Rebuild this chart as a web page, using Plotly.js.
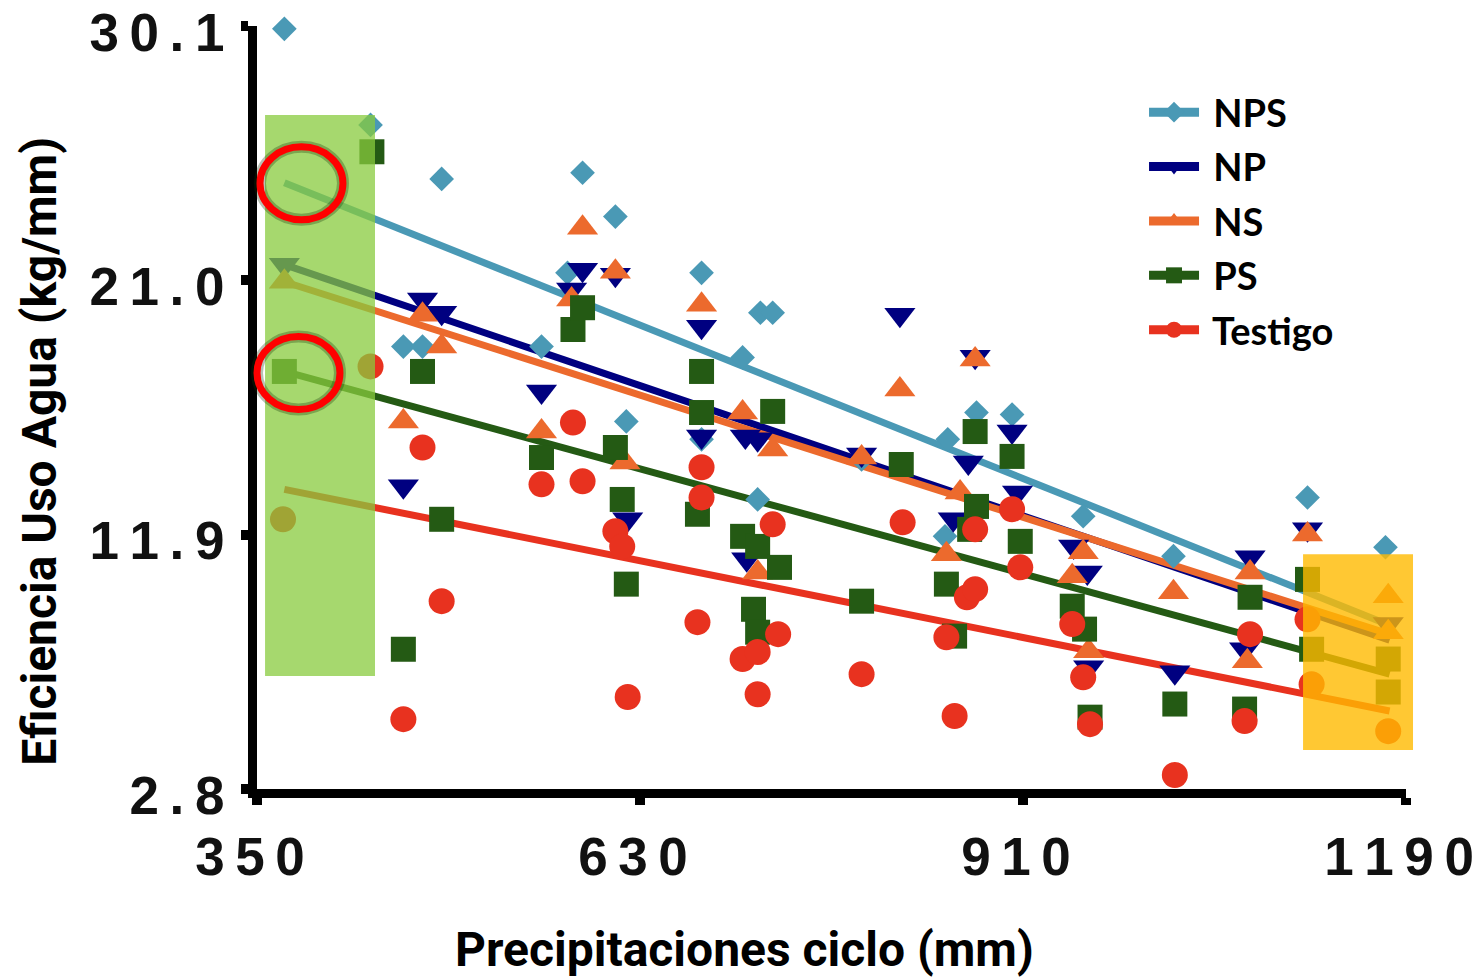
<!DOCTYPE html>
<html>
<head>
<meta charset="utf-8">
<script src="https://cdn.plot.ly/plotly-3.0.1.min.js"></script>
<style>
html,body{margin:0;padding:0;background:#fff;}
#chart{width:1480px;height:980px;}
</style>
</head>
<body>
<div id="chart"></div>
<script>
// ---- data ----
const seriesNames = ["NPS", "NP", "NS", "PS", "Testigo"];

const npsX = [370, 433, 457, 471, 485, 558, 577, 588, 612, 620, 675, 675, 705, 716, 718, 727, 792, 855, 853, 876, 902, 954, 1020, 1118, 1175];
const npsY = [30.0, 26.56, 18.63, 18.63, 24.63, 18.63, 21.27, 24.85, 23.28, 15.95, 15.31, 21.27, 18.24, 13.16, 19.84, 19.84, 14.59, 15.31, 11.84, 16.27, 16.20, 12.56, 11.13, 13.23, 11.45];

const npX = [370, 457, 471, 485, 558, 580, 588, 612, 621, 675, 675, 707, 716, 708, 792, 820, 875, 870, 902, 859, 906, 947, 957, 958, 1021, 1076, 1072, 1118, 1177];
const npY = [21.56, 13.63, 20.31, 19.84, 17.02, 20.67, 21.38, 21.20, 12.45, 19.34, 15.41, 15.41, 15.31, 11.02, 14.77, 19.77, 18.27, 14.48, 15.59, 12.45, 13.41, 11.48, 10.55, 7.16, 6.98, 11.09, 7.80, 12.09, 8.70];

const nsX = [370, 457, 471, 485, 558, 580, 588, 612, 619, 675, 705, 727, 716, 792, 820, 875, 864, 854, 954, 946, 958, 1020, 1076, 1074, 1118, 1177, 1177];
const nsY = [20.95, 15.95, 19.77, 18.63, 15.59, 20.31, 22.88, 21.31, 14.48, 20.13, 16.27, 14.95, 10.55, 14.66, 17.09, 18.17, 13.41, 11.20, 11.27, 10.41, 7.73, 9.84, 10.55, 7.37, 11.91, 9.70, 8.41];

const psX = [370, 434, 457, 471, 485, 558, 581, 588, 612, 617, 620, 675, 675, 672, 705, 716, 727, 732, 713, 716, 792, 821, 854, 860, 875, 902, 876, 871, 908, 946, 955, 959, 1021, 1076, 1072, 1118, 1121, 1177, 1177];
const psY = [17.74, 25.60, 7.80, 17.74, 12.45, 14.66, 19.24, 20.02, 15.02, 13.16, 10.13, 17.74, 16.27, 12.63, 11.84, 11.48, 16.31, 10.73, 9.23, 8.41, 9.52, 14.41, 10.13, 8.27, 15.59, 14.70, 12.91, 12.09, 11.66, 9.34, 8.52, 5.37, 5.84, 9.66, 5.66, 10.30, 7.80, 7.45, 6.27];

const testigoX = [369, 433, 457, 471, 485, 558, 581, 588, 612, 617, 621, 675, 675, 672, 705, 716, 716, 727, 731, 792, 822, 854, 860, 869, 875, 875, 902, 908, 946, 954, 959, 1021, 1076, 1072, 1118, 1121, 1177];
const testigoY = [12.45, 17.92, 5.30, 15.02, 9.52, 13.70, 15.91, 13.81, 12.02, 11.48, 6.09, 14.31, 13.23, 8.77, 7.45, 7.70, 6.19, 12.27, 8.34, 6.91, 12.34, 8.23, 5.41, 9.66, 9.95, 12.09, 12.81, 10.73, 8.70, 6.80, 5.12, 3.30, 8.34, 5.23, 8.87, 6.55, 4.87];

// fitted trend lines (start / end values)
const trendX = [370, 1178];
const trendNPS = [24.49, 8.66];
const trendNP = [21.56, 8.12];
const trendNS = [20.95, 8.34];
const trendPS = [17.74, 6.91];
const trendTestigo = [13.52, 5.59];

// axis ticks
const xTickVals = [350, 630, 910, 1190];
const xTickText = ["3\u20095\u20090", "6\u20093\u20090", "9\u20091\u20090", "1\u20091\u20099\u20090"];
const yTickVals = [2.8, 11.9, 21.0, 30.1];
const yTickText = ["2\u2009.\u20098", "1\u20091\u2009.\u20099", "2\u20091\u2009.\u20090", "3\u20090\u2009.\u20091"];

const xTitle = "Precipitaciones ciclo (mm)";
const yTitle = "Eficiencia Uso Agua (kg/mm)";

// ---- styling ----
const colors = ["#4a99b5", "#000080", "#ec6a2d", "#245a14", "#e8321f"];
const symbols = ["diamond", "triangle-down", "triangle-up", "square", "circle"];
const sizes = [19, 27, 27, 25, 26];
const xs = [npsX, npX, nsX, psX, testigoX];
const ys = [npsY, npY, nsY, psY, testigoY];
const trends = [trendNPS, trendNP, trendNS, trendPS, trendTestigo];

const traces = [];
// trend lines first (drawn under markers)
for (let i = 0; i < 5; i++) {
  traces.push({
    type: "scatter", mode: "lines", x: trendX, y: trends[i],
    line: {color: colors[i], width: 7}, showlegend: false, hoverinfo: "skip"
  });
}
// markers
for (let i = 0; i < 5; i++) {
  traces.push({
    type: "scatter", mode: "markers", x: xs[i], y: ys[i], name: seriesNames[i],
    marker: {symbol: symbols[i], size: sizes[i], color: colors[i], line: {width: 0}},
    showlegend: false, cliponaxis: false
  });
}
// legend entries (line + marker symbol)
for (let i = 0; i < 5; i++) {
  traces.push({
    type: "scatter", mode: "lines+markers", x: [null], y: [null],
    name: "\u00a0" + seriesNames[i],
    legendgroup: "g" + i,
    line: {color: colors[i], width: 9},
    marker: {symbol: symbols[i], size: 16, color: colors[i]},
    showlegend: true
  });
}

const titleFont = {family: "Roboto, 'Liberation Sans Narrow', sans-serif", size: 48, color: "#000", weight: 700};
const tickFont = {family: "'Liberation Sans', Arial, sans-serif", size: 53, color: "#111", weight: 700};

const layout = {
  width: 1480, height: 980,
  margin: {l: 257, r: 74, t: 26, b: 191, pad: 0},
  paper_bgcolor: "#fff", plot_bgcolor: "#fff",
  showlegend: true,
  legend: {
    x: 0.772, y: 0.928, xanchor: "left", yanchor: "top",
    font: {family: "Lato, 'Open Sans', sans-serif", size: 38, color: "#000", weight: 700},
    bgcolor: "rgba(0,0,0,0)", itemwidth: 50, tracegroupgap: 2,
    traceorder: "grouped"
  },
  xaxis: {
    range: [350, 1190], showgrid: false, zeroline: false,
    showline: true, linecolor: "#000", linewidth: 9,
    ticks: "outside", ticklen: 7, tickwidth: 10, tickcolor: "#000",
    tickvals: xTickVals, ticktext: xTickText, tickfont: tickFont,
    ticklabelstandoff: 6, ticklabelshift: -7, ticklabeloverflow: "allow"
  },
  yaxis: {
    range: [2.8, 30.1], showgrid: false, zeroline: false,
    showline: true, linecolor: "#000", linewidth: 9,
    ticks: "outside", ticklen: 7, tickwidth: 10, tickcolor: "#000",
    tickvals: yTickVals, ticktext: yTickText, tickfont: tickFont,
    ticklabelstandoff: 6, ticklabelshift: 6, ticklabeloverflow: "allow"
  },
  annotations: [
    {text: xTitle, xref: "paper", yref: "paper", x: 0.424, y: -0.211,
     xanchor: "center", yanchor: "middle", showarrow: false, font: titleFont},
    {text: yTitle, xref: "paper", yref: "paper", x: -0.189, y: 0.443, textangle: -90,
     xanchor: "center", yanchor: "middle", showarrow: false, font: titleFont}
  ],
  shapes: [
    // green highlight box (left)
    {type: "rect", xref: "paper", yref: "paper", x0: 0.007, x1: 0.1027, y0: 0.148, y1: 0.8835,
     fillcolor: "rgb(136,203,62)", opacity: 0.75, line: {width: 0}, layer: "above"},
    // yellow highlight box (right)
    {type: "rect", xref: "paper", yref: "paper", x0: 0.9104, x1: 1.0061, y0: 0.051, y1: 0.3076,
     fillcolor: "rgb(255,186,0)", opacity: 0.8, line: {width: 0}, layer: "above"},
    // red circle shadows
    {type: "circle", xref: "paper", yref: "paper", x0: 0.0026, x1: 0.0748, y0: 0.7461, y1: 0.8416,
     line: {color: "rgba(20,50,10,0.3)", width: 12}, layer: "above"},
    {type: "circle", xref: "paper", yref: "paper", x0: 0.0, x1: 0.0722, y0: 0.4974, y1: 0.5929,
     line: {color: "rgba(20,50,10,0.3)", width: 12}, layer: "above"},
    // red circles
    {type: "circle", xref: "paper", yref: "paper", x0: 0.0026, x1: 0.0748, y0: 0.7461, y1: 0.8416,
     line: {color: "#ff0000", width: 7}, layer: "above"},
    {type: "circle", xref: "paper", yref: "paper", x0: 0.0, x1: 0.0722, y0: 0.4974, y1: 0.5929,
     line: {color: "#ff0000", width: 7}, layer: "above"}
  ]
};

Plotly.newPlot("chart", traces, layout, {displayModeBar: false, staticPlot: true});
</script>
</body>
</html>
